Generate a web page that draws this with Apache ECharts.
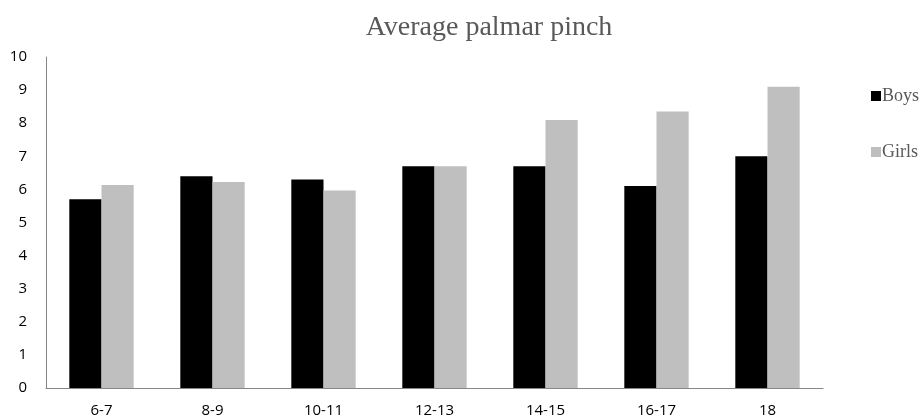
<!DOCTYPE html>
<html>
<head>
<meta charset="utf-8">
<script src="https://cdn.jsdelivr.net/npm/echarts@6/dist/echarts.min.js"></script>
<style>
html,body{margin:0;padding:0;background:#fff;}
#chart{width:921px;height:420px;}
</style>
</head>
<body>
<div id="chart"></div>
<script>
// Age groups and average palmar pinch values
const ageGroups = ['6-7', '8-9', '10-11', '12-13', '14-15', '16-17', '18'];
const boys = [5.7, 6.4, 6.3, 6.7, 6.7, 6.1, 7.0];
const girls = [6.13, 6.22, 5.97, 6.7, 8.1, 8.35, 9.1];
const yTicks = [0, 1, 2, 3, 4, 5, 6, 7, 8, 9, 10];

const chart = echarts.init(document.getElementById('chart'));
chart.setOption({
  animation: false,
  backgroundColor: '#ffffff',
  title: {
    text: 'Average palmar pinch',
    left: 484,
    textAlign: 'center',
    top: 9,
    textStyle: { fontFamily: 'Liberation Serif', fontSize: 28, fontWeight: 'normal', color: '#595959' }
  },
  legend: {
    orient: 'vertical',
    left: 866,
    top: 82,
    itemGap: 38,
    itemWidth: 10,
    itemHeight: 10,
    icon: 'rect',
    textStyle: { fontFamily: 'Liberation Serif', fontSize: 18, color: '#595959', padding: [0, 0, 0, -4] },
    data: ['Boys', 'Girls']
  },
  grid: { left: 46, right: 98, top: 57, bottom: 32, containLabel: false },
  xAxis: {
    type: 'category',
    data: ageGroups,
    axisLine: { lineStyle: { color: '#868686', width: 1 } },
    axisTick: { show: false },
    axisLabel: { fontFamily: 'Open Sans', fontSize: 15, color: '#000', margin: 15 }
  },
  yAxis: {
    type: 'value',
    min: yTicks[0],
    max: yTicks[yTicks.length - 1],
    interval: 1,
    axisLine: { show: true, lineStyle: { color: '#868686', width: 1 } },
    axisTick: { show: false },
    splitLine: { show: false },
    axisLabel: { fontFamily: 'Open Sans', fontSize: 15, color: '#000', margin: 19 }
  },
  series: [
    {
      name: 'Boys', type: 'bar', data: boys,
      itemStyle: { color: '#000000' },
      barGap: '0%', barCategoryGap: '42%'
    },
    {
      name: 'Girls', type: 'bar', data: girls,
      itemStyle: { color: '#bfbfbf' },
      barGap: '0%', barCategoryGap: '42%'
    }
  ]
});
</script>
</body>
</html>
